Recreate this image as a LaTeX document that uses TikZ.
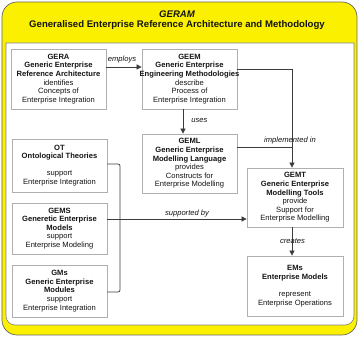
\documentclass[tikz,border=0pt]{standalone}
\usepackage{fontspec}
\setmainfont{Liberation Sans}
\usetikzlibrary{arrows.meta}
\definecolor{geryellow}{RGB}{250,240,0}
\definecolor{boxgray}{RGB}{175,175,175}
\definecolor{linegray}{RGB}{60,60,60}
\definecolor{txt}{RGB}{20,20,20}
\begin{document}
\begin{tikzpicture}[x=1pt,y=-1pt,
  box/.style={draw=boxgray, fill=white, line width=0.7pt, minimum width=95pt,
    inner sep=0pt, align=center, text=txt, font=\fontsize{7.6}{8.6}\selectfont},
  conn/.style={draw=linegray, line width=0.7pt},
  arr/.style={conn, -{Triangle[length=5pt,width=5pt]}},
  lbl/.style={inner sep=0pt, text=txt, font=\fontsize{7.6}{8.6}\selectfont\itshape},
  ttl/.style={inner sep=0pt, text=txt, font=\fontsize{9.6}{11}\selectfont\bfseries}]
\useasboundingbox (0,0) rectangle (360,337);
% frame
\draw[fill=geryellow, draw=gray!80!black, line width=0.7pt, rounded corners=15pt] (2,2) rectangle (357,335);
\draw[fill=white, draw=gray, line width=0.6pt] (6,60) -- (6,43) -- (354,43) -- (354,60) [rounded corners=9pt] -- (354,325) -- (6,325) -- (6,60) -- cycle;
% title
\node[ttl] (t1) at (177,14) {\itshape GERAM};
\node[ttl] (t2) at (177,25) {Generalised Enterprise Reference Architecture and Methodology};
% boxes
\node[box, minimum height=60pt] (GERA) at (58.5,79) {\textbf{GERA}\\\textbf{Generic Enterprise}\\\textbf{Reference Architecture}\\identifies\\Concepts of\\Enterprise Integration};
\node[box, minimum height=60pt] (GEEM) at (189.5,79) {\textbf{GEEM}\\\textbf{Generic Enterprise}\\\makebox[0pt]{\textbf{Engineering Methodologies}}\\describe\\Process of\\Enterprise Integration};
\node[box, minimum height=59pt] (GEML) at (189.5,163.5) {\textbf{GEML}\\\textbf{Generic Enterprise}\\\textbf{Modelling Language}\\provides\\Constructs for\\Enterprise Modelling};
\node[box, minimum height=53pt] (OT) at (59.5,165.5) {\textbf{OT}\\\textbf{Ontological Theories}\\[8.6pt]support\\Enterprise Integration};
\node[box, minimum height=51pt] (GEMS) at (59.5,228.5) {\textbf{GEMS}\\\textbf{Generetic Enterprise}\\\textbf{Models}\\support\\Enterprise Modeling};
\node[box, minimum height=52pt] (GMs) at (59.5,291) {\textbf{GMs}\\\textbf{Generic Enterprise}\\\textbf{Modules}\\support\\Enterprise Integration};
\node[box, minimum width=96pt, minimum height=59pt] (GEMT) at (295,197.5) {\textbf{GEMT}\\\textbf{Generic Enterprise}\\\textbf{Modelling Tools}\\provide\\Support for\\Enterprise Modelling};
\node[box, minimum width=96pt, minimum height=60pt] (EMs) at (295,286) {\textbf{EMs}\\\textbf{Enterprise Models}\\[8.6pt]represent\\Enterprise Operations};
% helper coordinates
\coordinate (a1) at (0,67);
\coordinate (u1) at (183,0);
\coordinate (j1) at (292,69);
\coordinate (j2) at (292,147);
\coordinate (b1) at (120,164);
\coordinate (b2) at (120,292);
\coordinate (s1) at (0,219);
% connectors
\draw[arr] (GERA.east |- a1) -- (GEEM.west |- a1);
\draw[arr] (GEEM.south -| u1) -- (GEML.north -| u1);
\draw[arr] (GEEM.east |- j1) -- (j1) -- (GEMT.north -| j1);
\draw[conn] (GEML.east |- j2) -- (j2);
\draw[conn, rounded corners=2pt] (OT.east |- b1) -- (b1) -- (b2) -- (GMs.east |- b2);
\draw[arr] (GEMS.east |- s1) -- (GEMT.west |- s1);
\draw[arr] (GEMT.south -| j1) -- (EMs.north -| j1);
% labels
\node[lbl] (lemp) at (122,60) {employs};
\node[lbl] (luse) at (199.5,120) {uses};
\node[lbl] (limp) at (290,141) {implemented in};
\node[lbl] (lsup) at (187,214) {supported by};
\node[lbl] (lcre) at (292.5,241) {creates};
\end{tikzpicture}
\end{document}
